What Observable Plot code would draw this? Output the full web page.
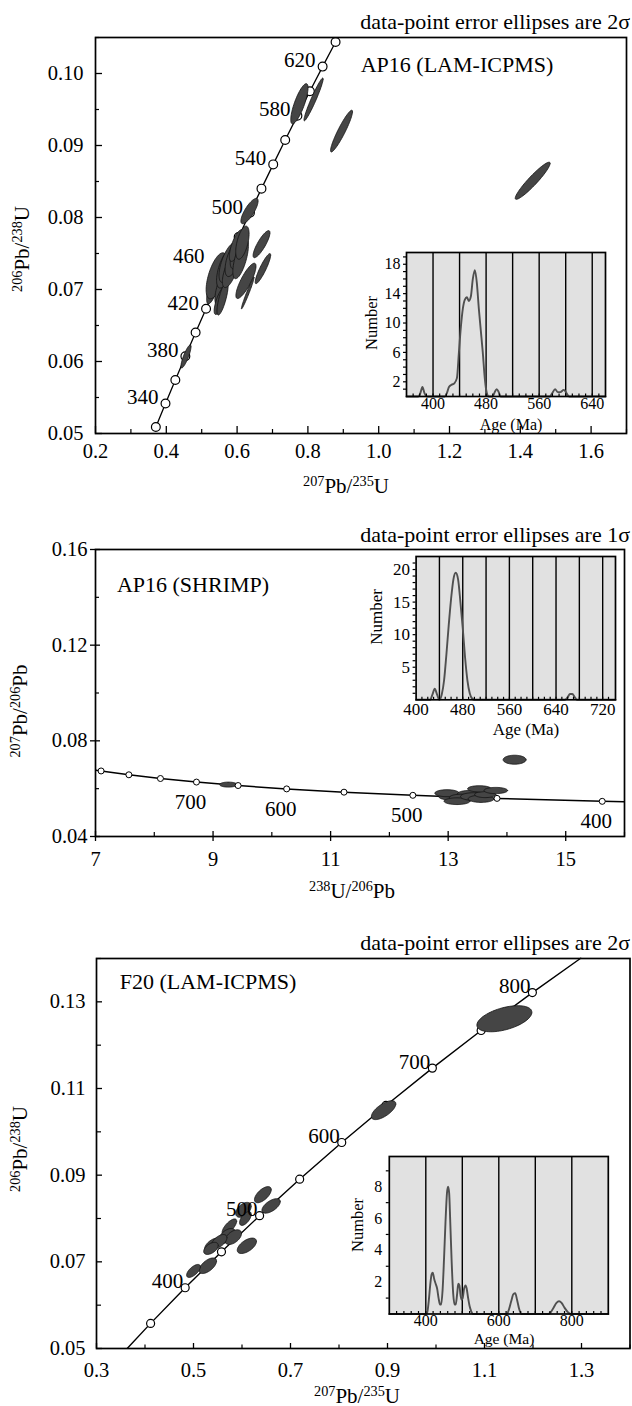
<!DOCTYPE html>
<html><head><meta charset="utf-8">
<script src="https://cdn.jsdelivr.net/npm/d3@7"></script>
<script src="https://cdn.jsdelivr.net/npm/@observablehq/plot@0.6"></script>
<style>
body{margin:0;background:#fff;}
#root{position:relative;width:632px;height:1406px;font-family:"Liberation Serif","Times New Roman",serif;color:#000;overflow:hidden;background:#fff;}
.lbl{position:absolute;white-space:nowrap;line-height:1;transform:translate(-50%,-50%);}
.rot{transform:translate(-50%,-50%) rotate(-90deg);}
.ttl{position:absolute;right:2px;white-space:nowrap;line-height:1;font-size:22px;}
sup{font-size:0.68em;vertical-align:baseline;position:relative;top:-0.5em;}
</style></head><body><div id="root"></div>
<script>
// ---------- Panel 1: AP16 (LAM-ICPMS), Wetherill concordia ----------
const p1Ages = [320,340,360,380,400,420,440,460,480,500,520,540,560,580,600,620,640];
const p1ConcX = [0.37047,0.39773,0.42553,0.45389,0.48281,0.51231,0.54239,0.57307,0.60437,0.63628,0.66882,0.70202,0.73588,0.77041,0.80563,0.84155,0.87818];
const p1ConcY = [0.050893,0.054158,0.057434,0.060720,0.064016,0.067322,0.070638,0.073965,0.077302,0.080650,0.084008,0.087376,0.090755,0.094144,0.097544,0.100955,0.104375];
const p1LabelAges = [340,380,420,460,500,540,580,620];
const p1EllX   = [0.4556,0.534,0.542,0.559,0.553,0.559,0.567,0.576,0.581,0.590,0.604,0.598,0.610,0.615,0.635,0.669,0.673,0.625,0.630,0.776,0.816,0.895,1.435];
const p1EllY   = [0.0607,0.0705,0.0719,0.0706,0.0685,0.0688,0.0729,0.07375,0.0726,0.0743,0.0754,0.0761,0.0743,0.0765,0.0809,0.0763,0.0729,0.0712,0.0695,0.0958,0.0964,0.0920,0.0851];
const p1EllSX  = [0.0142,0.020,0.0295,0.0217,0.0178,0.0158,0.025,0.0271,0.0226,0.024,0.0234,0.020,0.022,0.0189,0.0243,0.0238,0.0218,0.0284,0.0179,0.0244,0.0271,0.031,0.0493];
const p1EllSY  = [0.0016,0.0025,0.0032,0.00266,0.00197,0.00235,0.0027,0.00277,0.00233,0.0025,0.00252,0.0022,0.0028,0.0023,0.00176,0.00188,0.00209,0.00245,0.0022,0.00279,0.00297,0.0029,0.00258];
const p1EllRho = [0.85,0.75,0.60,0.73,0.74,0.76,0.60,0.64,0.65,0.60,0.65,0.70,0.65,0.54,0.79,0.84,0.90,0.83,0.977,0.79,0.96,0.93,0.94];
const p1XMajor = [0.2,0.4,0.6,0.8,1.0,1.2,1.4,1.6];
const p1XMinor = [0.3,0.5,0.7,0.9,1.1,1.3,1.5,1.7];
const p1YMajor = [0.05,0.06,0.07,0.08,0.09,0.10];
const p1YMinor = [0.055,0.065,0.075,0.085,0.095,0.105];
// inset 1
const in1Grid = [400,440,480,520,560,600,640];
const in1XTicks = [400,480,560,640];
const in1XMinor = d3.range(370,660,10);
const in1YTicks = [2,6,10,14,18];
const in1YMinor = d3.range(1,20,1);
const in1Age = [360,378,381,384,387,390,418,421,424,428,432,436,439,442,445,448,451,454,457,460,463,466,469,472,475,478,481,484,490,493,496,499,502,576,580,584,588,592,597,601,605,660];
const in1Num = [0,0,0.5,1.3,0.5,0,0,0.5,1.3,1.6,1.8,2.5,6,9.5,12,13.2,13.5,13.0,13.6,16,17.2,15.5,12,9,6,2.5,0.5,0,0,0.6,1.0,0.6,0,0,0.5,1.0,0.6,0.6,0.9,0.5,0,0];

// ---------- Panel 2: AP16 (SHRIMP), Tera-Wasserburg ----------
const p2Ages = [860,850,800,750,700,650,600,550,500,450,400,391];
const p2ConcX = [7.007,7.095,7.568,8.105,8.718,9.426,10.252,11.228,12.399,13.831,15.621,15.992];
const p2ConcY = [0.06772,0.06740,0.06580,0.06425,0.06276,0.06131,0.05990,0.05854,0.05722,0.05594,0.05470,0.05448];
const p2LabelAges = [700,600,500,400];
const p2EllX   = [9.26,13.02,12.98,13.36,13.22,13.15,13.43,13.56,13.63,13.53,13.81,14.13];
const p2EllY   = [0.0617,0.0567,0.0581,0.05785,0.0562,0.05476,0.0567,0.05576,0.05756,0.05994,0.05923,0.0721];
const p2EllSX  = [0.148,0.18,0.207,0.2,0.2,0.22,0.22,0.22,0.18,0.2,0.2,0.195];
const p2EllSY  = [0.00105,0.0014,0.00146,0.0014,0.0015,0.0014,0.0016,0.0015,0.0013,0.0013,0.0013,0.00188];
const p2EllRho = [0,0,0,0,0,0,0,0,0,0,0,0];
const p2XMajor = [7,9,11,13,15];
const p2XMinor = [8,10,12,14,16];
const p2YMajor = [0.04,0.08,0.12,0.16];
const p2YMinor = [0.06,0.10,0.14];
// inset 2
const in2Grid = [440,480,520,560,600,640,680,720];
const in2XTicks = [400,480,560,640,720];
const in2XMinor = d3.range(410,740,10);
const in2YTicks = [5,10,15,20];
const in2YMinor = d3.range(1,22,1);
const in2Age = [400,424,428,432,436,440,444,448,452,456,460,464,468,472,476,480,484,488,492,496,500,655,660,664,668,672,676,742];
const in2Num = [0,0,0.8,1.7,0.8,0,0.8,3,7,11.5,15.5,18.5,19.5,18.5,15,11,6.5,3,1,0.2,0,0,0.4,0.9,0.9,0.4,0,0];

// ---------- Panel 3: F20 (LAM-ICPMS), Wetherill concordia ----------
const p3Ages = [315,350,400,450,500,550,600,650,700,750,800,845];
const p3ConcX = [0.36374,0.41156,0.48281,0.55766,0.63628,0.71887,0.80563,0.89677,0.99251,1.09308,1.19873,1.29837];
const p3ConcY = [0.050078,0.055794,0.064016,0.072300,0.080650,0.089064,0.097544,0.106090,0.114702,0.123382,0.132129,0.140059];
const p3LabelAges = [400,500,600,700,800];
const p3EllX   = [1.141,0.892,0.643,0.660,0.603,0.607,0.574,0.5695,0.582,0.540,0.553,0.536,0.610,0.5295,0.500];
const p3EllY   = [0.1261,0.105,0.0855,0.0829,0.0820,0.0800,0.0781,0.0760,0.0757,0.0739,0.0747,0.0731,0.0737,0.0691,0.0679];
const p3EllSX  = [0.0567,0.0252,0.0173,0.0189,0.0160,0.012,0.015,0.017,0.017,0.017,0.016,0.015,0.0198,0.018,0.0142];
const p3EllSY  = [0.00301,0.00218,0.00186,0.00167,0.00172,0.0016,0.0018,0.0017,0.0017,0.0016,0.0016,0.0014,0.00178,0.0018,0.0015];
const p3EllRho = [0.49,0.67,0.62,0.60,0.48,0.60,0.72,0.5,0.5,0.55,0.55,0.5,0.57,0.6,0.65];
const p3XMajor = [0.3,0.5,0.7,0.9,1.1,1.3];
const p3XMinor = [0.4,0.6,0.8,1.0,1.2,1.4];
const p3YMajor = [0.05,0.07,0.09,0.11,0.13];
const p3YMinor = [0.06,0.08,0.10,0.12,0.14];
// inset 3
const in3Grid = [400,500,600,700,800];
const in3XTicks = [400,600,800];
const in3XMinor = d3.range(320,900,20);
const in3YTicks = [2,4,6,8];
const in3YMinor = [1,3,5,7,9];
const in3Age = [300,400,404,408,412,416,419,423,427,431,435,439,442,446,450,454,458,461,464,467,471,475,479,482,486,489,492,495,498,501,505,509,512,516,520,524,530,622,628,634,640,645,650,656,662,735,742,750,758,765,772,780,790,798,900];
const in3Num = [0,0,0.1,0.8,1.8,2.5,2.6,2.2,1.9,1.6,1.0,0.6,0.6,1.5,3.5,5.8,7.6,8.0,7.6,5.8,3.2,1.3,0.6,0.6,1.3,1.9,1.8,1.2,0.9,1.0,1.6,1.8,1.6,1.0,0.5,0.2,0,0,0.3,0.8,1.25,1.3,0.9,0.3,0,0,0.1,0.4,0.7,0.8,0.7,0.4,0.1,0,0];

// ---------- helpers ----------
const FONT = "'Liberation Serif', 'Times New Roman', serif";
const root = document.getElementById("root");
function place(el, left, top) {
  el.style.position = "absolute"; el.style.left = left + "px"; el.style.top = top + "px";
  root.appendChild(el);
}
function html(cls, text, x, y, size, extra) {
  const d = document.createElement("div");
  d.className = cls; d.innerHTML = text;
  d.style.left = x + "px"; d.style.top = y + "px"; d.style.fontSize = size + "px";
  if (extra) Object.assign(d.style, extra);
  root.appendChild(d);
}
function ellipses(xs, ys, sxs, sys, rhos) {
  const pts = [], N = 72;
  xs.forEach((cx, i) => {
    const r = rhos[i], q = Math.sqrt(1 - r * r);
    for (let k = 0; k < N; k++) {
      const t = 2 * Math.PI * k / N;
      pts.push({id: i, x: cx + sxs[i] * Math.cos(t), y: ys[i] + sys[i] * (r * Math.cos(t) + q * Math.sin(t))});
    }
  });
  return pts;
}
function conc(ages, xs, ys) { return ages.map((a, i) => ({age: a, x: xs[i], y: ys[i]})); }
const ellStyle = {x: "x", y: "y", z: "id", fill: "#454545", stroke: "#111", strokeWidth: 0.8, curve: "linear-closed"};

function axes(o) {
  return [
    Plot.axisX(o.xMajor, {tickSize: o.xMajorSize, fill: "none", strokeWidth: 1.3, label: null}),
    o.xMajorOut ? Plot.axisX(o.xMajor, {tickSize: o.xMajorOut, fill: "none", strokeWidth: 1.3, label: null}) : null,
    Plot.axisX(o.xMinor, {tickSize: o.xMinorSize, fill: "none", strokeWidth: 1.2, label: null}),
    Plot.axisX(o.xMajor, {tickSize: 0, tickPadding: o.xPad, tickFormat: o.xFmt, fontSize: 20.5, label: null}),
    Plot.axisY(o.yMajor, {tickSize: o.yMajorSize, fill: "none", strokeWidth: 1.3, label: null}),
    o.yMajorOut ? Plot.axisY(o.yMajor, {tickSize: o.yMajorOut, fill: "none", strokeWidth: 1.3, label: null}) : null,
    Plot.axisY(o.yMinor, {tickSize: o.yMinorSize, fill: "none", strokeWidth: 1.2, label: null}),
    Plot.axisY(o.yMajor, {tickSize: 0, tickPadding: o.yPad, tickFormat: o.yFmt, fontSize: 20.5, label: null})
  ];
}

function inset(o) {
  const curve = o.ages.map((a, i) => ({a, n: o.nums[i]}));
  const svg = Plot.plot({
    width: o.width, height: o.height,
    marginLeft: o.mL, marginRight: o.mR, marginTop: o.mT, marginBottom: o.mB,
    x: {domain: o.xDomain, label: null},
    y: {domain: o.yDomain, label: null},
    style: {fontFamily: FONT, background: "transparent", color: "black", overflow: "visible"},
    marks: [
      Plot.frame({fill: "#e1e1e1", stroke: "none"}),
      Plot.ruleX(o.grid, {stroke: "black", strokeWidth: 1.4}),
      Plot.line(curve, {x: "a", y: "n", stroke: "#505050", strokeWidth: 1.9, curve: "monotone-x"}),
      Plot.frame({stroke: "black", strokeWidth: 1.7}),
      Plot.axisX(o.xMinor, {tickSize: -2.5, fill: "none", strokeWidth: 1.2, label: null}),
      Plot.axisX(o.xTicks, {tickSize: 0, tickPadding: o.xPad, fontSize: o.fs, label: null}),
      Plot.axisY(o.yMinor, {tickSize: 3, fill: "none", strokeWidth: 1.2, label: null}),
      Plot.axisY(o.yTicks, {tickSize: 0, tickPadding: o.yPad, fontSize: o.fs, label: null})
    ]
  });
  place(svg, o.left, o.top);
}

// ---------- Panel 1 ----------
{
  const c = conc(p1Ages, p1ConcX, p1ConcY);
  const lab = c.filter(d => p1LabelAges.includes(d.age));
  const svg = Plot.plot({
    width: 632, height: 470,
    marginTop: 37, marginBottom: 37, marginLeft: 95, marginRight: 6,
    x: {domain: [0.2, 1.7], label: null},
    y: {domain: [0.05, 0.105], label: null},
    style: {fontFamily: FONT, background: "transparent", color: "black", overflow: "visible"},
    marks: [
      Plot.line(c, {x: "x", y: "y", stroke: "black", strokeWidth: 1.3}),
      Plot.dot(c, {x: "x", y: "y", r: 4.4, fill: "white", stroke: "black", strokeWidth: 1.2}),
      Plot.line(ellipses(p1EllX, p1EllY, p1EllSX, p1EllSY, p1EllRho), ellStyle),
      Plot.text(lab.filter(d => d.age !== 460), {x: "x", y: "y", text: d => String(d.age), textAnchor: "end", dx: -7, dy: -6, fontSize: 21}),
      Plot.text(lab.filter(d => d.age === 460), {x: "x", y: "y", text: d => String(d.age), textAnchor: "end", dx: -23, dy: -5, fontSize: 21}),
      Plot.frame({stroke: "black", strokeWidth: 1.7}),
      ...axes({xMajor: p1XMajor, xMinor: p1XMinor, yMajor: p1YMajor, yMinor: p1YMinor,
        xMajorSize: -7, xMinorSize: -4, yMajorSize: -7, yMinorSize: -4, xPad: 10, yPad: 12,
        xFmt: d3.format(".1f"), yFmt: d3.format(".2f")})
    ]
  });
  place(svg, 0, 0);
  inset({left: 360, top: 245, width: 250, height: 185, mL: 46, mR: 5, mT: 7, mB: 34,
    xDomain: [360, 660], yDomain: [0, 19.6], grid: in1Grid, xTicks: in1XTicks, xMinor: in1XMinor,
    yTicks: in1YTicks, yMinor: in1YMinor, ages: in1Age, nums: in1Num, xPad: 1, yPad: 6, fs: 16});
  html("ttl", "data-point error ellipses are 2σ", 0, 11, 22, {left: "auto"});
  html("lbl", "AP16 (LAM-ICPMS)", 457, 65, 22);
  html("lbl", "<sup>207</sup>Pb/<sup>235</sup>U", 346, 486, 21);
  html("lbl rot", "<sup>206</sup>Pb/<sup>238</sup>U", 22, 249, 21);
  html("lbl", "Age (Ma)", 511, 425, 16);
  html("lbl rot", "Number", 372, 323, 16.5);
}

// ---------- Panel 2 ----------
{
  const c = conc(p2Ages, p2ConcX, p2ConcY);
  const mk = c.filter(d => d.age % 50 === 0);
  const lab = c.filter(d => p2LabelAges.includes(d.age));
  const svg = Plot.plot({
    width: 632, height: 420,
    marginTop: 79, marginBottom: 54, marginLeft: 95, marginRight: 8,
    x: {domain: [7, 16], label: null},
    y: {domain: [0.04, 0.16], label: null},
    style: {fontFamily: FONT, background: "transparent", color: "black", overflow: "visible"},
    marks: [
      Plot.line(c, {x: "x", y: "y", stroke: "black", strokeWidth: 1.5}),
      Plot.line(ellipses(p2EllX, p2EllY, p2EllSX, p2EllSY, p2EllRho), ellStyle),
      Plot.dot(mk, {x: "x", y: "y", r: 3, fill: "white", stroke: "black", strokeWidth: 1}),
      Plot.text(lab, {x: "x", y: "y", text: d => String(d.age), textAnchor: "middle", dx: -6, dy: 20, fontSize: 21}),
      Plot.frame({stroke: "black", strokeWidth: 1.7}),
      ...axes({xMajor: p2XMajor, xMinor: p2XMinor, yMajor: p2YMajor, yMinor: p2YMinor,
        xMajorSize: -5, xMajorOut: 5, xMinorSize: -4, yMajorSize: -5, yMajorOut: 5, yMinorSize: -4, xPad: 15, yPad: 8,
        xFmt: d3.format("d"), yFmt: d3.format(".2f")})
    ]
  });
  place(svg, 0, 470);
  inset({left: 365, top: 550, width: 262, height: 190, mL: 50.6, mR: 12, mT: 6, mB: 40.7,
    xDomain: [400, 742], yDomain: [0, 22], grid: in2Grid, xTicks: in2XTicks, xMinor: in2XMinor,
    yTicks: in2YTicks, yMinor: in2YMinor, ages: in2Age, nums: in2Num, xPad: 3, yPad: 6, fs: 17});
  html("ttl", "data-point error ellipses are 1σ", 0, 524, 22, {left: "auto"});
  html("lbl", "AP16 (SHRIMP)", 193, 585, 22);
  html("lbl", "<sup>238</sup>U/<sup>206</sup>Pb", 352, 891, 21);
  html("lbl rot", "<sup>207</sup>Pb/<sup>206</sup>Pb", 20, 711, 21);
  html("lbl", "Age (Ma)", 526, 729, 17);
  html("lbl rot", "Number", 376, 617, 17);
}

// ---------- Panel 3 ----------
{
  const c = conc(p3Ages, p3ConcX, p3ConcY);
  const mk = c.filter(d => d.age % 50 === 0);
  const lab = c.filter(d => p3LabelAges.includes(d.age));
  const svg = Plot.plot({
    width: 632, height: 516,
    marginTop: 68, marginBottom: 58, marginLeft: 96, marginRight: 2.5,
    x: {domain: [0.3, 1.4], label: null},
    y: {domain: [0.05, 0.14], label: null},
    style: {fontFamily: FONT, background: "transparent", color: "black", overflow: "visible"},
    marks: [
      Plot.line(c, {x: "x", y: "y", stroke: "black", strokeWidth: 1.4}),
      Plot.dot(mk, {x: "x", y: "y", r: 4, fill: "white", stroke: "black", strokeWidth: 1.2}),
      Plot.line(ellipses(p3EllX, p3EllY, p3EllSX, p3EllSY, p3EllRho), ellStyle),
      Plot.text(lab, {x: "x", y: "y", text: d => String(d.age), textAnchor: "end", dx: -2, dy: -6, fontSize: 21}),
      Plot.frame({stroke: "black", strokeWidth: 1.7}),
      ...axes({xMajor: p3XMajor, xMinor: p3XMinor, yMajor: p3YMajor, yMinor: p3YMinor,
        xMajorSize: -5, xMinorSize: -3.5, yMajorSize: -6, yMinorSize: -5, xPad: 14, yPad: 11,
        xFmt: d3.format(".1f"), yFmt: d3.format(".2f")})
    ]
  });
  place(svg, 0, 890);
  inset({left: 345, top: 1150, width: 270, height: 195, mL: 43.8, mR: 7.2, mT: 6, mB: 31.5,
    xDomain: [300, 900], yDomain: [0, 9.9], grid: in3Grid, xTicks: in3XTicks, xMinor: in3XMinor,
    yTicks: in3YTicks, yMinor: in3YMinor, ages: in3Age, nums: in3Num, xPad: 1, yPad: 7, fs: 16});
  html("ttl", "data-point error ellipses are 2σ", 0, 932, 22, {left: "auto"});
  html("lbl", "F20 (LAM-ICPMS)", 208, 982, 22);
  html("lbl", "<sup>207</sup>Pb/<sup>235</sup>U", 357, 1396, 21);
  html("lbl rot", "<sup>206</sup>Pb/<sup>238</sup>U", 20, 1149, 21);
  html("lbl", "Age (Ma)", 504, 1339, 15.5);
  html("lbl rot", "Number", 358, 1225, 16.5);
}
</script></body></html>
